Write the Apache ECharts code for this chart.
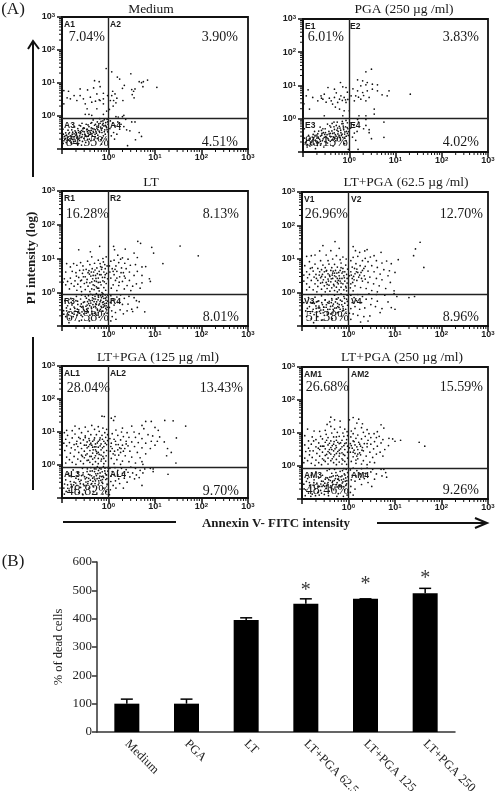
<!DOCTYPE html>
<html>
<head>
<meta charset="utf-8">
<title>Annexin V / PI</title>
<script src="https://cdn.jsdelivr.net/npm/echarts@6/dist/echarts.min.js"></script>
<style>
  html, body { margin: 0; padding: 0; background: #fff; }
  #main { width: 500px; height: 791px; }
</style>
</head>
<body>
<div id="main"></div>
<script>
// dot plots: each point is [log10 annexin, log10 PI]
const mediumDots = [
  [-.05,1.44],[.07,1.34],[.48,1.28],[.84,1.09],[.75,1.04],[.66,1.04],[.71,1.01],[-.3,1.07],[-.2,1.04],[-.18,.89],[1.04,.87],[.74,.89],[.57,.82],[.5,.8],[.54,.75],[.51,.65],[.55,.55],[.19,1.18],[.24,1.12],[.34,.93],[.3,.84],[.07,.62],[.14,.67],[.18,.54],[.11,.47],[.31,.47],[.04,.47],[-.02,.62],[-.11,.69],[-.25,.67],[-.32,.85],[-.45,.79],[-.61,.82],[-.61,.62],[-.74,.62],[-.86,.75],[-.96,.77],[-.82,.52],[-.89,.55],[-.68,.47],[-.54,.52],[-.39,.57],[-.18,.47],[-.11,.52],[-.96,.37],[-.5,.37],[-.36,.42],[-.25,.22],[-.11,.37],[-.46,.22],[-.5,.05],[-.36,.02],[-.11,.05],[.33,.02],[.21,-.03],[-.2,.49],[-.28,.45],[.1,.3],[.02,.2],[-.04,.15],[-.42,.05],[.09,.75],[.16,.4],
  [-.97,-.55],[-.95,-.62],[-.93,-.68],[-.96,-.75],[-.9,-.58],[-.88,-.66],[-.86,-.72],[-.91,-.8],[-.84,-.5],[-.82,-.6],[-.8,-.67],[-.83,-.76],[-.78,-.55],[-.76,-.63],[-.74,-.7],[-.79,-.84],[-.72,-.45],[-.7,-.58],[-.68,-.66],[-.71,-.76],[-.66,-.38],[-.64,-.5],[-.62,-.6],[-.65,-.7],[-.6,-.3],[-.58,-.44],[-.56,-.56],[-.59,-.65],[-.54,-.36],[-.52,-.48],[-.5,-.58],[-.53,-.68],[-.48,-.25],[-.46,-.4],[-.44,-.52],[-.47,-.62],[-.42,-.32],[-.4,-.45],[-.38,-.55],[-.41,-.7],[-.36,-.2],[-.34,-.38],[-.32,-.5],[-.35,-.6],[-.3,-.28],[-.28,-.42],[-.26,-.52],[-.29,-.66],[-.24,-.18],[-.22,-.34],[-.2,-.46],[-.23,-.58],[-.18,-.22],[-.16,-.38],[-.14,-.5],[-.17,-.72],[-.12,-.15],[-.1,-.3],[-.08,-.42],[-.11,-.6],[-.06,-.2],[-.04,-.35],[-.02,-.48],[-.05,-.7],[-.03,-.1],[-.01,-.25],[-.57,-.22],[-.73,-.33],[-.87,-.43],[-.33,-.12],[-.19,-.08],[-.49,-.8],[-.66,-.86],[-.15,-.85],[-.98,-.4],[-.37,-.36],[-.25,-.31],[-.43,-.44],[-.61,-.47],[-.69,-.52],[-.77,-.49],[-.55,-.39],[-.13,-.27],[-.21,-.24],
  [.04,-.15],[.09,-.22],[.03,-.38],[.14,-.3],[.2,-.18],[.27,-.25],[.11,-.5],[.18,-.55],[.33,-.32],[.24,-.4],[.37,-.1],[.5,-.18],[.57,-.18],[.39,-.42],[.46,-.45],[.66,-.5],[.71,-.62],[.58,-.72],[.41,-.9],[.13,-.7],[.06,-.6],[.3,-.02],[.16,-.02]
];
const mediumCore = [
  [-.94,-.71],[-.87,-.63],[-.915,-.595],[-.83,-.69],[-.79,-.61],[-.855,-.54],[-.73,-.625],[-.77,-.71],[-.69,-.555],[-.63,-.67],[-.705,-.49],[-.675,-.61],[-.61,-.535],[-.57,-.63],[-.595,-.505],[-.51,-.55],[-.55,-.465],[-.49,-.61],[-.455,-.475],[-.43,-.585],[-.47,-.415],[-.39,-.505],[-.37,-.435],[-.41,-.56],[-.33,-.465],[-.355,-.535],[-.31,-.395],[-.27,-.475],[-.29,-.555],[-.23,-.415],[-.25,-.365],[-.19,-.495],[-.215,-.295],[-.15,-.425],[-.17,-.335],[-.135,-.365],[-.09,-.475],[-.07,-.285],[-.115,-.225],[-.03,-.415],[-.05,-.315],[-.02,-.175],
  [-.985,-.67],[-.975,-.83],[-.89,-.74],[-.81,-.81],[-.75,-.77],[-.69,-.83],[-.62,-.74],[-.56,-.77],[-.45,-.71],[-.38,-.75],[-.31,-.71],[-.24,-.68],[-.13,-.66],[-.07,-.55],[-.74,-.54],[-.65,-.44],[-.52,-.37],[-.44,-.27],[-.38,-.22],[-.28,-.25],[-.16,-.16],[-.09,-.11],[-.63,-.28],[-.79,-.42],[-.92,-.51]
];
const pgaDots = [
  [.48,1.49],[.36,1.41],[.18,1.17],[.29,1.14],[.39,1.09],[.5,1.04],[.61,1.02],[.36,1.02],[.25,.99],[.86,.84],[1.32,.74],[.71,.72],[.82,.69],[.61,.84],[.5,.89],[.18,.84],[.29,.79],[.39,.84],[.14,.69],[.04,.69],[.43,.64],[.25,.59],[.11,.54],[.54,.29],[.54,.14],[.36,.54],[.21,.09],[.36,.09],[.08,.9],[.2,.65],[.31,.7],
  [-.19,1.09],[-.46,.94],[-.32,.89],[-.14,.96],[-.07,.94],[-.89,.87],[-.93,.69],[-.79,.64],[-.61,.69],[-.54,.74],[-.57,.59],[-.68,.54],[-.39,.54],[-.32,.64],[-.21,.59],[-.11,.64],[-.18,.69],[-.36,.44],[-.25,.49],[-.07,.49],[-.86,.29],[-.21,.29],[-.11,.24],[-.54,.09],[-.14,.09],[0,.24],[-.43,.62],[-.5,.5],[-.6,.62],[-.04,.8],[-.28,.78],[-.15,.55],[-.08,.57],[-.03,.58],[-.3,.35],[-.98,.45],
  [-.95,-.72],[-.9,-.78],[-.92,-.65],[-.86,-.6],[-.85,-.82],[-.82,-.7],[-.8,-.55],[-.78,-.62],[-.76,-.76],[-.74,-.5],[-.72,-.68],[-.7,-.58],[-.68,-.45],[-.66,-.72],[-.64,-.62],[-.62,-.52],[-.6,-.35],[-.58,-.66],[-.56,-.42],[-.54,-.56],[-.52,-.3],[-.5,-.7],[-.48,-.48],[-.46,-.6],[-.44,-.38],[-.42,-.52],[-.4,-.25],[-.38,-.64],[-.36,-.44],[-.34,-.56],[-.32,-.32],[-.3,-.48],[-.28,-.2],[-.26,-.6],[-.24,-.38],[-.22,-.5],[-.2,-.28],[-.18,-.42],[-.16,-.15],[-.14,-.56],[-.12,-.33],[-.1,-.46],[-.08,-.24],[-.06,-.38],[-.04,-.12],[-.02,-.5],[-.03,-.3],[-.47,-.16],[-.63,-.25],[-.75,-.38],[-.88,-.5],[-.97,-.58],[-.33,-.1],[-.15,-.08],[-.55,-.85],[-.73,-.9],[-.35,-.82],[-.1,-.75],[-.02,-.92],[-.97,-.3],[-.41,-.44],[-.53,-.47],[-.67,-.55],[-.25,-.28],[-.13,-.22],[-.07,-.05],
  [.04,-.12],[.1,-.2],[.03,-.28],[.17,-.38],[.11,-.43],[.2,-.1],[.31,-.3],[.36,-.2],[.07,-.55],[.43,-.33],[.43,-.42],[.75,-.1],[.75,-.56],[.48,-.6],[.14,-.65],[.18,-.02],[.36,-.02],[.19,-.92]
];
const pgaCore = [
  [-.93,-.69],[-.875,-.64],[-.84,-.745],[-.805,-.665],[-.77,-.575],[-.735,-.645],[-.705,-.725],[-.665,-.585],[-.625,-.675],[-.595,-.495],[-.565,-.605],[-.525,-.685],[-.515,-.415],[-.485,-.565],[-.445,-.645],[-.435,-.455],[-.395,-.535],[-.375,-.365],[-.355,-.615],[-.325,-.425],[-.285,-.525],[-.265,-.345],[-.245,-.455],[-.215,-.565],[-.185,-.345],[-.155,-.465],[-.125,-.275],[-.095,-.395],[-.065,-.525],[-.045,-.265],[-.015,-.385],[-.135,-.145],[-.095,-.585],[-.215,-.225],
  [-.985,-.77],[-.91,-.85],[-.81,-.79],[-.69,-.8],[-.61,-.75],[-.47,-.73],[-.41,-.68],[-.29,-.66],[-.19,-.64],[-.07,-.66],[-.78,-.47],[-.66,-.37],[-.57,-.3],[-.42,-.21],[-.37,-.14],[-.26,-.1],[-.51,-.54],[-.59,-.44],[-.7,-.49],[-.31,-.58],[-.17,-.5],[-.04,-.44],[-.33,-.24]
];
const ltDots = [
  [.63,1.51],[.69,1.45],[.93,1.33],[1.54,1.37],[1.93,1.08],[.97,1.16],[1.17,.85],[.11,1.36],[.13,1.26],[.36,1.28],[.55,1.16],[.62,1.03],[-.19,1.36],[-.64,1.26],[-.39,1.2],[.2,1.1],[.3,1.02],[.42,.98],[.12,.95],[.05,.92],[.22,.88],[.35,.86],[.47,.8],[.58,.82],[.72,.75],[.8,.76],[.16,.78],[.28,.72],[.38,.7],[.08,.7],[.18,.62],[.32,.58],[.45,.6],[.62,.62],[.55,.5],[.72,.5],[.88,.4],[.9,.32],[.12,.52],[.24,.46],[.36,.42],[.05,.42],[.15,.35],[.3,.32],[.45,.35],[.6,.25],[.72,.28],[.52,.18],[.68,.12],[.4,.2],[.22,.2],[.1,.22],[.34,.1],[.06,.12],[.18,.05],[.48,.05],[.03,.6],[.02,.78],[.26,.98],
  [-.05,1.05],[-.12,1],[-.22,.95],[-.36,1.05],[-.45,.92],[-.6,.88],[-.75,.85],[-.9,.85],[-.82,.75],[-.68,.8],[-.55,.78],[-.4,.82],[-.3,.86],[-.18,.85],[-.08,.82],[-.03,.78],[-.14,.74],[-.25,.72],[-.35,.7],[-.48,.68],[-.62,.65],[-.78,.62],[-.92,.6],[-.7,.58],[-.56,.56],[-.44,.58],[-.32,.6],[-.2,.62],[-.1,.6],[-.04,.56],[-.16,.52],[-.28,.5],[-.38,.48],[-.5,.46],[-.64,.44],[-.82,.42],[-.95,.4],[-.88,.32],[-.72,.34],[-.58,.36],[-.46,.38],[-.34,.4],[-.22,.42],[-.08,.44],[-.02,.4],[-.12,.34],[-.26,.32],[-.4,.28],[-.52,.26],[-.66,.24],[-.8,.26],[-.92,.22],[-.98,.3],[-.74,.18],[-.6,.16],[-.44,.18],[-.3,.2],[-.16,.22],[-.05,.26],[-.1,.14],[-.24,.12],[-.36,.1],[-.5,.08],[-.68,.06],[-.84,.1],[-.2,.04],[-.06,.06],[-.4,.02],[-.58,.02],[-.3,.34],[-.15,.68],[-.42,.64],[-.24,.55],[-.07,.7],[-.33,.22],[-.54,.66],[-.18,.3],
  [-.96,-.65],[-.92,-.72],[-.9,-.55],[-.88,-.4],[-.86,-.66],[-.84,-.78],[-.82,-.5],[-.8,-.3],[-.78,-.62],[-.76,-.72],[-.74,-.44],[-.72,-.56],[-.7,-.25],[-.68,-.68],[-.66,-.36],[-.64,-.52],[-.62,-.62],[-.6,-.2],[-.58,-.44],[-.56,-.72],[-.54,-.3],[-.52,-.55],[-.5,-.12],[-.48,-.62],[-.46,-.38],[-.44,-.48],[-.42,-.22],[-.4,-.68],[-.38,-.32],[-.36,-.56],[-.34,-.08],[-.32,-.44],[-.3,-.62],[-.28,-.2],[-.26,-.36],[-.24,-.5],[-.22,-.1],[-.2,-.74],[-.18,-.28],[-.16,-.42],[-.14,-.56],[-.12,-.04],[-.1,-.18],[-.08,-.34],[-.06,-.48],[-.04,-.14],[-.02,-.26],[-.03,-.62],[-.15,-.16],[-.27,-.46],[-.37,-.44],[-.47,-.5],[-.57,-.58],[-.67,-.5],[-.31,-.28],[-.21,-.38],[-.11,-.44],[-.19,-.55],[-.07,-.08],[-.09,-.64],[-.25,-.68],[-.41,-.85],[-.63,-.85],[-.85,-.9],[-.13,-.3],[-.35,-.24],[-.45,-.28],[-.55,-.42],[-.05,-.4],[-.17,-.1],[-.29,-.12],[-.43,-.1],[-.69,-.12],[-.94,-.25],
  [.05,-.1],[.1,-.2],[.18,-.14],[.26,-.08],[.34,-.18],[.44,-.12],[.55,-.16],[.6,-.25],[.66,-.28],[.04,-.3],[.12,-.38],[.2,-.3],[.3,-.36],[.42,-.35],[.5,-.5],[.62,-.45],[.78,-.58],[.07,-.55],[.15,-.6],[.25,-.52],[.32,-.64],[.08,-.72],[.16,-.8],[.4,-.55],[.52,-.57],[.05,-.85],[.02,-.45]
];
const ltCore = [
  [-.585,-.345],[-.545,-.465],[-.515,-.285],[-.485,-.415],[-.455,-.545],[-.425,-.335],[-.395,-.255],[-.365,-.485],[-.335,-.365],[-.315,-.195],[-.285,-.415],[-.255,-.285],[-.235,-.535],[-.215,-.145],[-.195,-.345],[-.165,-.235],[-.145,-.455],[-.125,-.115],[-.105,-.285],[-.085,-.405],[-.065,-.175],[-.045,-.325],[-.025,-.445],[-.015,-.085],[-.055,-.235],[-.115,-.365],[-.175,-.505],[-.225,-.225],[-.275,-.345],[-.345,-.165],[-.405,-.395],[-.475,-.175],[-.535,-.515],[-.605,-.415],[-.665,-.265],[-.725,-.475],[-.785,-.375],[-.845,-.585],[-.905,-.465],[-.965,-.545],
  [-.74,-.65],[-.66,-.6],[-.59,-.68],[-.53,-.64],[-.44,-.6],[-.34,-.64],[-.22,-.6],[-.12,-.56],[-.04,-.52],[-.81,-.18],[-.58,-.08],[-.38,-.06],[-.26,-.04],[-.14,-.01],
  [-.54,.46],[-.47,.29],[-.41,.54],[-.36,.31],[-.33,.5],[-.27,.41],[-.22,.29],[-.19,.52],[-.13,.44],[-.09,.31],[-.29,.66],[-.37,.6],[-.17,.76],[-.11,.9],[-.21,.12],[-.31,.08],[-.6,.34],[-.69,.48],[-.26,.16],[-.07,.52],[.1,.62],[.18,.42],[.27,.58],[.23,.3],[.14,.68],[.34,.48]
];
const ltPga62Dots = [
  [1.54,1.5],[1.44,1.3],[1.4,1.1],[1.62,.75],[.1,1.37],[.15,1.25],[.24,1.2],[.35,1.24],[.4,1.28],[.7,1.2],[.55,1.1],[.47,1.06],[.36,1.02],[.2,1.08],[.1,1.05],[.05,.95],[.3,.95],[.42,.92],[.6,.95],[.72,.88],[.82,.94],[1.07,.98],[.92,.86],[.16,.86],[.25,.8],[.36,.78],[.5,.8],[.62,.75],[.76,.68],[.88,.65],[1.0,.6],[.08,.76],[.18,.7],[.3,.66],[.42,.64],[.55,.62],[.68,.55],[.85,.5],[.05,.62],[.14,.56],[.24,.52],[.34,.5],[.46,.46],[.6,.42],[.72,.38],[.9,.3],[.08,.42],[.18,.36],[.3,.34],[.42,.3],[.54,.26],[.66,.2],[.8,.12],[.05,.26],[.14,.2],[.26,.15],[.38,.12],[.5,.06],[.62,.02],[.1,.05],[.98,.05],[.02,.5],[.2,.6],[.11,.48],[.28,.42],[.04,.14],[.33,.72],
  [-.29,1.52],[-.55,1.4],[-.2,1.32],[-.38,1.25],[-.62,1.24],[-.8,1.1],[-.9,1.08],[-.72,1.12],[-.48,1.12],[-.26,1.1],[-.12,1.06],[-.05,1],[-.18,.98],[-.34,1],[-.44,.95],[-.6,.95],[-.84,.92],[-.72,.85],[-.55,.82],[-.42,.85],[-.3,.84],[-.16,.88],[-.06,.82],[-.94,.8],[-.82,.72],[-.66,.72],[-.5,.74],[-.36,.74],[-.24,.76],[-.12,.72],[-.02,.7],[-.9,.62],[-.76,.64],[-.62,.62],[-.48,.64],[-.38,.66],[-.28,.66],[-.18,.66],[-.08,.62],[-.96,.52],[-.84,.54],[-.7,.54],[-.56,.54],[-.44,.56],[-.34,.58],[-.25,.58],[-.14,.58],[-.04,.54],[-.88,.44],[-.74,.46],[-.6,.44],[-.5,.46],[-.4,.48],[-.3,.5],[-.2,.5],[-.1,.5],[-.96,.34],[-.8,.36],[-.66,.36],[-.54,.38],[-.44,.4],[-.34,.42],[-.24,.42],[-.14,.42],[-.03,.42],[-.9,.26],[-.72,.26],[-.6,.28],[-.48,.3],[-.38,.32],[-.28,.34],[-.18,.34],[-.08,.34],[-.84,.16],[-.66,.18],[-.52,.2],[-.42,.22],[-.32,.24],[-.22,.26],[-.12,.26],[-.03,.28],[-.9,.08],[-.76,.08],[-.58,.1],[-.46,.12],[-.36,.14],[-.26,.16],[-.16,.16],[-.06,.18],[-.68,.02],[-.4,.04],[-.3,.06],[-.2,.08],[-.1,.08],[-.5,.02],[-.24,.02],[-.04,.05],[-.35,.52],[-.22,.36],[-.12,.62],[-.46,.24],[-.58,.48],[-.3,.58],[-.16,.28],[-.05,.14],
  [-.96,-.3],[-.92,-.55],[-.9,-.72],[-.86,-.15],[-.84,-.42],[-.82,-.62],[-.8,-.78],[-.78,-.3],[-.76,-.5],[-.74,-.66],[-.72,-.14],[-.7,-.4],[-.68,-.58],[-.66,-.72],[-.64,-.25],[-.62,-.46],[-.6,-.62],[-.58,-.1],[-.56,-.36],[-.54,-.52],[-.52,-.68],[-.5,-.22],[-.48,-.44],[-.46,-.58],[-.44,-.06],[-.42,-.32],[-.4,-.5],[-.38,-.64],[-.36,-.18],[-.34,-.4],[-.32,-.54],[-.3,-.08],[-.28,-.28],[-.26,-.46],[-.24,-.6],[-.22,-.16],[-.2,-.36],[-.18,-.5],[-.16,-.04],[-.14,-.26],[-.12,-.42],[-.1,-.12],[-.08,-.32],[-.06,-.5],[-.04,-.2],[-.02,-.38],[-.03,-.08],[-.55,-.82],[-.35,-.78],[-.15,-.7],[-.75,-.9],[-.05,-.62],[-.25,-.2],[-.45,-.3],[-.65,-.46],[-.33,-.5],[-.23,-.42],[-.13,-.55],[-.37,-.3],[-.53,-.44],[-.69,-.28],
  [.05,-.08],[.12,-.15],[.2,-.06],[.3,-.12],[.44,-.04],[.6,-.06],[.78,-.08],[.98,-.03],[1.04,-.12],[1.3,-.15],[1.42,-.12],[.08,-.3],[.17,-.24],[.28,-.3],[.38,-.2],[.5,-.18],[.62,-.26],[.85,-.28],[.92,-.45],[1,-.5],[.05,-.48],[.14,-.42],[.24,-.5],[.35,-.46],[.48,-.36],[.58,-.42],[.72,-.48],[.1,-.64],[.2,-.68],[.33,-.72],[.46,-.7],[.68,-.6],[.05,-.8],[.26,-.88],[.42,-.85],[.02,-.62]
];
const ltPga62Core = [
  [-.735,-.325],[-.695,-.475],[-.665,-.265],[-.635,-.405],[-.595,-.525],[-.575,-.305],[-.535,-.435],[-.505,-.225],[-.475,-.365],[-.445,-.505],[-.415,-.265],[-.385,-.415],[-.355,-.225],[-.325,-.345],[-.295,-.465],[-.265,-.195],[-.235,-.325],[-.205,-.445],[-.175,-.225],[-.145,-.365],[-.115,-.485],[-.085,-.175],[-.885,-.475],[-.815,-.295],[-.775,-.565],[-.625,-.565],[-.545,-.605],[-.455,-.645],[-.335,-.605],[-.215,-.585],[-.105,-.535],[-.025,-.265],
  [-.47,.66],[-.41,.52],[-.37,.41],[-.33,.64],[-.27,.47],[-.43,.34],[-.52,.62],[-.63,.52],[-.21,.6],[-.19,.42],[-.09,.44],[-.16,.74],[-.56,.3],[-.24,.3],[-.31,.2],[-.69,.42],[-.78,.74],[-.58,.68],[.06,.52],[.12,.38],[.17,.62],[.22,.46],[.13,.72],[.27,.6],[.09,.3],[.36,.4]
];
const ltPga125Dots = [
  [-.09,1.47],[.06,1.42],[.14,1.47],[.11,1.35],[.8,1.32],[.92,1.32],[1.21,1.35],[1.39,1.34],[1.66,1.18],[.72,1.2],[.76,1.1],[1,1.14],[1.07,1.05],[.5,1.18],[.3,1.12],[.16,1.06],[.28,1],[.4,.98],[.55,1],[.66,.95],[.85,.92],[.95,.88],[1.1,.85],[1.46,.82],[.08,.95],[.2,.9],[.32,.86],[.44,.84],[.58,.84],[.72,.8],[.92,.72],[1.05,.72],[1.2,.7],[.12,.78],[.26,.76],[.38,.72],[.5,.7],[.64,.68],[.8,.66],[1,.6],[1.27,.5],[.06,.66],[.16,.62],[.3,.6],[.42,.58],[.56,.56],[.72,.52],[.9,.5],[1.35,.38],[.08,.5],[.2,.46],[.32,.42],[.46,.42],[.62,.38],[.8,.34],[.1,.34],[.22,.3],[.36,.28],[.5,.24],[.68,.22],[1.25,.28],[.06,.2],[.18,.16],[.3,.12],[.44,.1],[.58,.06],[.72,.1],[.74,.02],[1.45,.06],[.12,.04],[.26,.02],[.04,.42],[.15,.72],[.35,.5],[.24,.52],[.03,.8],
  [-.14,1.48],[-.72,1.18],[-.9,1.05],[-.78,1.04],[-.63,1.1],[-.5,1.15],[-.36,1.2],[-.22,1.16],[-.12,1.12],[-.04,1.08],[-.3,1.08],[-.44,1.02],[-.58,.98],[-.72,.94],[-.88,.9],[-.95,.98],[-.2,1.02],[-.08,.98],[-.02,.92],[-.14,.9],[-.26,.92],[-.38,.92],[-.5,.88],[-.64,.84],[-.78,.82],[-.92,.78],[-.06,.84],[-.18,.82],[-.3,.82],[-.42,.8],[-.54,.76],[-.68,.72],[-.84,.68],[-.96,.66],[-.02,.74],[-.1,.72],[-.22,.72],[-.34,.72],[-.46,.7],[-.6,.66],[-.74,.62],[-.9,.58],[-.16,.64],[-.28,.64],[-.4,.62],[-.52,.6],[-.66,.56],[-.8,.52],[-.04,.62],[-.1,.56],[-.22,.54],[-.34,.54],[-.46,.52],[-.58,.5],[-.72,.46],[-.94,.44],[-.16,.46],[-.28,.46],[-.4,.44],[-.52,.42],[-.64,.38],[-.82,.36],[-.04,.44],[-.1,.38],[-.22,.38],[-.34,.36],[-.46,.34],[-.58,.3],[-.74,.26],[-.9,.24],[-.16,.3],[-.28,.28],[-.4,.26],[-.52,.22],[-.66,.18],[-.84,.16],[-.05,.28],[-.1,.2],[-.22,.2],[-.34,.18],[-.46,.14],[-.6,.12],[-.78,.08],[-.16,.12],[-.28,.1],[-.4,.08],[-.54,.04],[-.7,.02],[-.92,.06],[-.06,.12],[-.22,.04],[-.34,.02],[-.1,.04],[-.3,.55],[-.18,.58],[-.25,.35],[-.38,.66],[-.12,.26],[-.48,.6],[-.56,.26],
  [-.96,-.7],[-.92,-.45],[-.88,-.6],[-.86,-.25],[-.84,-.78],[-.82,-.5],[-.8,-.35],[-.78,-.66],[-.76,-.15],[-.74,-.52],[-.72,-.74],[-.7,-.4],[-.68,-.62],[-.66,-.22],[-.64,-.84],[-.62,-.5],[-.6,-.68],[-.58,-.32],[-.56,-.1],[-.54,-.58],[-.52,-.76],[-.5,-.42],[-.48,-.62],[-.46,-.2],[-.44,-.5],[-.42,-.7],[-.4,-.3],[-.38,-.08],[-.36,-.56],[-.34,-.4],[-.32,-.66],[-.3,-.2],[-.28,-.48],[-.26,-.32],[-.24,-.05],[-.22,-.6],[-.2,-.4],[-.18,-.24],[-.16,-.12],[-.14,-.52],[-.12,-.34],[-.1,-.7],[-.08,-.18],[-.06,-.44],[-.04,-.3],[-.02,-.08],[-.03,-.58],[-.11,-.05],[-.15,-.35],[-.19,-.1],[-.23,-.26],[-.27,-.12],[-.31,-.36],[-.35,-.18],[-.39,-.46],[-.43,-.28],[-.47,-.38],[-.55,-.3],[-.59,-.46],[-.67,-.34],[-.75,-.6],[-.83,-.32],[-.91,-.8],[-.95,-.88],[-.55,-.9],[-.25,-.85],[-.12,-.88],[-.05,-.8],[-.33,-.8],[-.13,-.44],[-.07,-.25],[-.21,-.48],[-.29,-.56],
  [.03,-.1],[.08,-.2],[.14,-.08],[.2,-.16],[.28,-.1],[.38,-.14],[.48,-.06],[.58,-.1],[.68,-.16],[.78,-.12],[.9,-.1],[.96,-.2],[1.28,-.28],[.05,-.34],[.12,-.3],[.2,-.3],[.3,-.25],[.42,-.22],[.52,-.24],[.6,-.3],[.66,-.38],[.74,-.24],[.96,-.12],[.05,-.5],[.15,-.48],[.22,-.42],[.34,-.4],[.46,-.36],[.56,-.42],[.72,-.62],[.1,-.62],[.24,-.56],[.4,-.52],[.04,-.75],[.16,-.7],[.32,-.7],[.02,-.9]
];
const ltPga125Core = [
  [-.545,-.235],[-.515,-.355],[-.485,-.515],[-.455,-.115],[-.425,-.405],[-.395,-.185],[-.365,-.325],[-.335,-.495],[-.305,-.115],[-.275,-.265],[-.245,-.415],[-.215,-.165],[-.185,-.335],[-.165,-.465],[-.135,-.205],[-.105,-.375],[-.075,-.095],[-.055,-.295],[-.035,-.415],[-.015,-.185],[-.125,-.555],[-.205,-.545],[-.295,-.425],[-.375,-.585],[-.445,-.565],[-.525,-.625],[-.605,-.565],[-.645,-.435],[-.705,-.545],[-.805,-.585],[-.875,-.705],[-.945,-.575],
  [-.5,.83],[-.41,.74],[-.36,.6],[-.31,.76],[-.27,.55],[-.24,.67],[-.19,.76],[-.13,.52],[-.07,.66],[-.33,.46],[-.43,.56],[-.2,.32],[-.26,.41],[-.37,.26],[-.49,.3],[-.13,.78],[-.61,.8],[-.69,.64],[-.43,.15],[-.3,.22],[-.15,.18],[.05,.56],[.13,.42],[.21,.62],[.27,.5],[.38,.64],[.14,.3],[.26,.38]
];
const ltPga250Dots = [
  [.1,1.47],[.22,1.42],[.02,1.4],[.18,1.3],[.3,1.28],[.7,1.25],[.76,1.15],[.62,1.04],[.55,.98],[1.12,.78],[1.52,.72],[1.64,.6],[1.0,.75],[.95,.82],[.87,.84],[.66,.9],[.4,1.1],[.28,1.16],[.14,1.14],[.06,1.06],[.32,1.02],[.44,.98],[.6,.86],[.74,.8],[.1,.98],[.2,.94],[.36,.9],[.48,.86],[.05,.88],[.16,.84],[.28,.82],[.42,.78],[.56,.74],[.7,.7],[.86,.62],[.1,.76],[.22,.72],[.34,.68],[.48,.66],[.62,.6],[.78,.5],[.04,.68],[.14,.64],[.26,.6],[.4,.58],[.54,.52],[.68,.42],[.08,.54],[.2,.5],[.32,.46],[.46,.42],[.6,.36],[.74,.3],[.04,.42],[.14,.38],[.26,.34],[.38,.3],[.52,.26],[.1,.28],[.2,.22],[.32,.16],[.46,.12],[.06,.14],[.16,.08],[.28,.06],[.56,.1],[.4,.04],[.24,.4],[.12,.48],[.3,.56],[.02,.55],[.18,.3],
  [-.38,1.48],[-.4,1.34],[-.3,1.4],[-.18,1.36],[-.46,1.26],[-.38,1.2],[-.88,1.12],[-.74,1.06],[-.62,1.05],[-.5,1.08],[-.3,1.12],[-.18,1.18],[-.08,1.12],[-.03,1.04],[-.12,1],[-.24,1.02],[-.36,1],[-.48,.96],[-.6,.9],[-.78,.88],[-.94,.92],[-.02,.92],[-.1,.9],[-.2,.9],[-.32,.88],[-.44,.86],[-.56,.82],[-.7,.8],[-.86,.76],[-.04,.8],[-.14,.78],[-.26,.78],[-.38,.76],[-.5,.72],[-.64,.7],[-.8,.66],[-.94,.64],[-.08,.68],[-.2,.68],[-.32,.66],[-.44,.64],[-.56,.6],[-.7,.58],[-.86,.54],[-.02,.6],[-.14,.58],[-.26,.56],[-.38,.56],[-.5,.52],[-.62,.5],[-.76,.46],[-.92,.44],[-.08,.5],[-.2,.48],[-.32,.46],[-.44,.44],[-.56,.42],[-.68,.38],[-.84,.34],[-.02,.42],[-.14,.4],[-.26,.38],[-.38,.36],[-.5,.32],[-.62,.3],[-.78,.26],[-.94,.24],[-.08,.32],[-.2,.3],[-.32,.28],[-.44,.24],[-.56,.22],[-.7,.18],[-.88,.16],[-.02,.24],[-.14,.22],[-.26,.2],[-.38,.16],[-.5,.14],[-.64,.1],[-.8,.08],[-.96,.1],[-.08,.14],[-.2,.12],[-.32,.1],[-.44,.06],[-.58,.04],[-.72,.02],[-.14,.06],[-.26,.04],[-.04,.05],[-.35,.62],[-.23,.44],[-.11,.35],[-.47,.35],[-.17,.7],[-.29,.52],[-.6,.6],[-.41,.5],
  [-.96,-.55],[-.92,-.72],[-.88,-.38],[-.86,-.82],[-.84,-.5],[-.82,-.66],[-.8,-.28],[-.78,-.85],[-.76,-.58],[-.74,-.42],[-.72,-.7],[-.7,-.18],[-.68,-.52],[-.66,-.8],[-.64,-.36],[-.62,-.62],[-.6,-.74],[-.58,-.46],[-.56,-.28],[-.54,-.58],[-.52,-.86],[-.5,-.4],[-.48,-.68],[-.46,-.14],[-.44,-.5],[-.42,-.76],[-.4,-.34],[-.38,-.6],[-.36,-.22],[-.34,-.46],[-.32,-.72],[-.3,-.1],[-.28,-.38],[-.26,-.56],[-.24,-.28],[-.22,-.84],[-.2,-.44],[-.18,-.16],[-.16,-.6],[-.14,-.3],[-.12,-.48],[-.1,-.08],[-.08,-.72],[-.06,-.36],[-.04,-.54],[-.02,-.2],[-.03,-.88],[-.09,-.24],[-.15,-.42],[-.21,-.32],[-.27,-.2],[-.33,-.3],[-.39,-.44],[-.45,-.36],[-.51,-.52],[-.57,-.62],[-.63,-.88],[-.71,-.9],[-.81,-.92],[-.93,-.9],[-.43,-.9],[-.25,-.92],[-.11,-.92],[-.07,-.46],[-.19,-.58],[-.29,-.64],[-.35,-.5],[-.23,-.4],[-.13,-.14],[-.41,-.1],[-.05,-.1],
  [.04,-.12],[.1,-.06],[.18,-.14],[.28,-.08],[.4,-.06],[.52,-.1],[.7,-.1],[.76,-.1],[.8,-.2],[.08,-.28],[.16,-.3],[.26,-.24],[.36,-.22],[.48,-.18],[.6,-.24],[.72,-.3],[.82,-.34],[.06,-.42],[.14,-.46],[.24,-.4],[.34,-.38],[.56,-.4],[.42,-.5],[.05,-.62],[.14,-.7],[.28,-.56],[.04,-.8],[.1,-.88],[.5,-.62]
];
const ltPga250Core = [
  [-.545,-.465],[-.515,-.615],[-.485,-.355],[-.455,-.545],[-.425,-.415],[-.395,-.645],[-.365,-.325],[-.335,-.555],[-.305,-.435],[-.275,-.295],[-.245,-.505],[-.215,-.395],[-.185,-.625],[-.165,-.325],[-.135,-.515],[-.105,-.395],[-.075,-.275],[-.055,-.585],[-.035,-.445],[-.015,-.325],[-.115,-.625],[-.245,-.635],[-.365,-.685],[-.475,-.595],[-.595,-.545],[-.655,-.625],[-.745,-.505],[-.835,-.585],[-.905,-.465],[-.955,-.695],
  [-.47,.78],[-.41,.69],[-.36,.5],[-.31,.74],[-.27,.62],[-.23,.72],[-.17,.52],[-.1,.62],[-.05,.7],[-.53,.6],[-.65,.54],[-.41,.4],[-.3,.34],[-.19,.38],[-.53,.18],[-.35,.22],[-.12,.18],[-.75,.76],[-.83,.46],[-.26,.88],[.06,.62],[.12,.74],[.18,.58],[.24,.66],[.1,.42],[.2,.36],[.29,.48],[.4,.68],[.16,.18]
];

const dotSets = [
  mediumDots.concat(mediumCore),
  pgaDots.concat(pgaCore),
  ltDots.concat(ltCore),
  ltPga62Dots.concat(ltPga62Core),
  ltPga125Dots.concat(ltPga125Core),
  ltPga250Dots.concat(ltPga250Core)
];
const panelTitles = ['Medium', 'PGA (250 \u00b5g /ml)', 'LT', 'LT+PGA (62.5 \u00b5g /ml)', 'LT+PGA (125 \u00b5g /ml)', 'LT+PGA (250 \u00b5g /ml)'];
const gateNames = [
  ['A1', 'A2', 'A3', 'A4'], ['E1', 'E2', 'E3', 'E4'], ['R1', 'R2', 'R3', 'R4'],
  ['V1', 'V2', 'V3', 'V4'], ['AL1', 'AL2', 'AL3', 'AL4'], ['AM1', 'AM2', 'AM3', 'AM4']
];
const gatePercents = [
  ['7.04%', '3.90%', '84.55%', '4.51%'], ['6.01%', '3.83%', '86.13%', '4.02%'], ['16.28%', '8.13%', '67.58%', '8.01%'],
  ['26.96%', '12.70%', '51.38%', '8.96%'], ['28.04%', '13.43%', '48.82%', '9.70%'], ['26.68%', '15.59%', '48.46%', '9.26%']
];
const gateLogY = [-0.06, 0.02, -0.06, -0.05, -0.06, -0.06];
const minorMultiples = [2, 3, 4, 5, 6, 7, 8, 9];
const decades = [0.1, 1, 10, 100];

// bar panel (B)
const barCategories = ['Medium', 'PGA', 'LT', 'LT+PGA 62.5', 'LT+PGA 125', 'LT+PGA 250'];
const barValues = [100, 100, 395, 453, 470, 490];
const barUpper = [116, 116, 403, 470, 470, 507];
const starLevels = [null, null, null, 508, 529, 550];
const barTicks = [0, 100, 200, 300, 400, 500, 600];

// [left, top, width, height] of each plot box and where its texts sit
const boxes = [[62, 17, 186, 132], [303, 19, 185, 133], [62, 191, 186, 135], [302, 192, 186, 134], [62, 366, 186, 132], [302, 367, 186, 132]];
const titleSpots = [[151, 9], [404, 9], [151, 182], [406, 182], [158, 357], [402, 357]];
const gateX = [108, 348, 108, 349, 108, 349];
const gateY = [118, 118, 294, 294, 467, 468];
const pctSpots = [
  [[105, 37], [238, 37], [109, 142], [238, 142]],
  [[344, 37], [479, 37], [348, 142], [479, 142]],
  [[109, 214], [239, 214], [109, 317], [239, 317]],
  [[348, 214], [483, 214], [349, 317], [479, 317]],
  [[110, 388], [243, 388], [110, 491], [239, 491]],
  [[349, 387], [483, 387], [349, 490], [479, 490]]
];

const serif = '"Liberation Serif", "Times New Roman", serif';
const sans = '"Liberation Sans", Arial, sans-serif';
const ink = '#1a1a1a';

function logLabel (v) {
  const e = Math.round(Math.log10(v));
  return e < 0 ? '' : '10{s|' + e + '}';
}

function textEl (text, x, y, font, align, rotation) {
  return {
    type: 'text',
    x: x,
    y: y,
    rotation: rotation || 0,
    z: 20,
    style: { text: text, font: font, fill: ink, textAlign: align || 'center', textVerticalAlign: 'middle' }
  };
}

function lineEl (x1, y1, x2, y2) {
  return { type: 'line', z: 20, shape: { x1, y1, x2, y2 }, style: { stroke: '#111', lineWidth: 2 } };
}

function chevronEl (points) {
  return { type: 'polyline', z: 20, shape: { points }, style: { stroke: '#111', lineWidth: 2, fill: 'none' } };
}

// log-spaced small ticks along the left and bottom of a dot plot
function renderMinorTick (params, api) {
  const v = api.value(0)
  const onX = api.coord([v, 0.1])
  const onY = api.coord([0.1, v])
  const style = { stroke: '#111', lineWidth: 1 }
  return {
    type: 'group',
    children: [
      { type: 'line', shape: { x1: onX[0], y1: onX[1], x2: onX[0], y2: onX[1] + 3 }, style },
      { type: 'line', shape: { x1: onY[0], y1: onY[1], x2: onY[0] - 3, y2: onY[1] }, style }
    ]
  }
}

const minorValues = decades.flatMap(d => minorMultiples.map(m => d * m))

const grids = []
const xAxes = []
const yAxes = []
const series = []
const graphics = [
  textEl('(A)', 13, 10, '17px ' + serif),
  textEl('(B)', 13, 562, '17px ' + serif),
  textEl('PI intensity (log)', 32, 258, 'bold 13px ' + serif, 'center', Math.PI / 2),
  textEl('Annexin V- FITC intensity', 276, 524, 'bold 13px ' + serif),
  textEl('% of dead cells', 59, 647, '12.5px ' + serif, 'center', Math.PI / 2),
  lineEl(33, 177, 33, 42),
  chevronEl([[28, 49], [33, 41], [39, 49]]),
  lineEl(33, 337, 33, 490),
  lineEl(63, 522, 176, 522),
  lineEl(377, 523, 486, 523),
  chevronEl([[475, 518], [487, 523], [475, 528]])
]

dotSets.forEach((dots, i) => {
  const b = boxes[i]
  grids.push({ left: b[0], top: b[1], width: b[2], height: b[3], outerBoundsMode: 'none', show: true, borderColor: '#111', borderWidth: 1.8, backgroundColor: '#fff' })
  const axis = {
    type: 'log',
    logBase: 10,
    min: 0.1,
    max: 1000,
    gridIndex: i,
    splitLine: { show: false },
    axisLine: { show: true, onZero: false, lineStyle: { color: '#111', width: 1.8 } },
    axisTick: { show: true, length: 5, lineStyle: { color: '#111', width: 1.5 } },
    axisLabel: {
      formatter: logLabel,
      fontFamily: sans,
      fontWeight: 'bold',
      fontSize: 9,
      color: ink,
      margin: 4,
      rich: { s: { fontFamily: sans, fontWeight: 'bold', fontSize: 6, verticalAlign: 'top', color: ink } }
    }
  }
  xAxes.push(Object.assign({}, axis))
  yAxes.push(Object.assign({}, axis, { axisLabel: Object.assign({}, axis.axisLabel, { margin: 7 }) }))
  series.push({
    type: 'scatter',
    xAxisIndex: i,
    yAxisIndex: i,
    symbol: 'circle',
    symbolSize: 1.7,
    silent: true,
    large: false,
    itemStyle: { color: '#111', opacity: 1 },
    data: dots.map(d => [Math.pow(10, d[0]), Math.pow(10, d[1])]),
    markLine: {
      silent: true,
      symbol: 'none',
      label: { show: false },
      animation: false,
      lineStyle: { color: '#222', width: 1.4, type: 'solid' },
      data: [{ xAxis: 1 }, { yAxis: Math.pow(10, gateLogY[i]) }]
    }
  })
  series.push({
    type: 'custom',
    xAxisIndex: i,
    yAxisIndex: i,
    silent: true,
    clip: false,
    data: minorValues.map(v => [v, v]),
    renderItem: renderMinorTick
  })

  graphics.push(textEl(panelTitles[i], titleSpots[i][0], titleSpots[i][1], '13.5px ' + serif))
  const names = gateNames[i]
  const qFont = 'bold 8.5px ' + sans
  graphics.push(textEl(names[0], b[0] + 2, b[1] + 8, qFont, 'left'))
  graphics.push(textEl(names[1], gateX[i] + 2, b[1] + 8, qFont, 'left'))
  graphics.push(textEl(names[2], b[0] + 2, gateY[i] + 8, qFont, 'left'))
  graphics.push(textEl(names[3], gateX[i] + 2, gateY[i] + 8, qFont, 'left'))
  gatePercents[i].forEach((t, k) => {
    graphics.push(textEl(t, pctSpots[i][k][0], pctSpots[i][k][1], '14px ' + serif, 'right'))
  })
})

// bar chart sits on the last grid, its slanted labels may run off the page
const barIndex = dotSets.length
grids.push({ left: 97, top: 562, width: 358, height: 170, outerBoundsMode: 'none' })
xAxes.push({
  type: 'category',
  gridIndex: barIndex,
  data: barCategories,
  axisLine: { show: true, lineStyle: { color: '#333', width: 1.5 } },
  axisTick: { show: false },
  axisLabel: { interval: 0, rotate: -45, fontFamily: serif, fontSize: 12.5, color: '#222', margin: 10 }
})
yAxes.push({
  type: 'value',
  gridIndex: barIndex,
  min: barTicks[0],
  max: barTicks[barTicks.length - 1],
  interval: barTicks[1] - barTicks[0],
  splitLine: { show: false },
  axisLine: { show: true, lineStyle: { color: '#333', width: 1.5 } },
  axisTick: { show: true, length: 5, lineStyle: { color: '#333', width: 1.5 } },
  axisLabel: { fontFamily: serif, fontSize: 13, color: '#222', margin: 5 }
})
series.push({
  type: 'bar',
  xAxisIndex: barIndex,
  yAxisIndex: barIndex,
  barWidth: 25,
  silent: true,
  itemStyle: { color: '#000' },
  data: barValues
})
series.push({
  type: 'custom',
  xAxisIndex: barIndex,
  yAxisIndex: barIndex,
  silent: true,
  data: barCategories.map((c, i) => [i, barValues[i], barUpper[i]]),
  renderItem (params, api) {
    const low = api.coord([api.value(0), api.value(1)])
    const high = api.coord([api.value(0), api.value(2)])
    const style = { stroke: '#000', lineWidth: 1.5 }
    return {
      type: 'group',
      children: [
        { type: 'line', shape: { x1: low[0], y1: low[1], x2: high[0], y2: high[1] }, style },
        { type: 'line', shape: { x1: high[0] - 6, y1: high[1], x2: high[0] + 6, y2: high[1] }, style }
      ]
    }
  }
})
series.push({
  type: 'scatter',
  xAxisIndex: barIndex,
  yAxisIndex: barIndex,
  symbolSize: 0,
  silent: true,
  data: starLevels.map((v, i) => [i, v]).filter(d => d[1] !== null),
  label: { show: true, position: 'inside', formatter: '*', fontFamily: serif, fontSize: 20, color: '#000', offset: [0, 3] }
})

const chart = echarts.init(document.getElementById('main'), null, { renderer: 'canvas' })
chart.setOption({
  animation: false,
  backgroundColor: '#fff',
  tooltip: { show: false },
  grid: grids,
  xAxis: xAxes,
  yAxis: yAxes,
  series: series,
  graphic: graphics
})
</script>
</body>
</html>
